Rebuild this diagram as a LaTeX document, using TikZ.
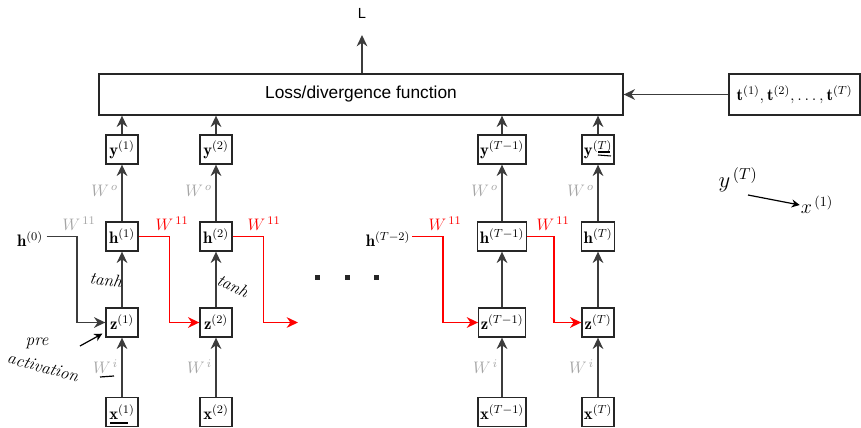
\RequirePackage{fix-cm}
\documentclass[tikz,border=0pt]{standalone}
\usepackage{fontspec}
\newfontfamily\lossfont{Liberation Sans}
\usetikzlibrary{arrows.meta}
\definecolor{linegray}{RGB}{60,60,60}
\definecolor{wgray}{RGB}{165,165,165}
\tikzset{
  cell/.style={draw=black!85, line width=1pt, minimum width=24pt, minimum height=21.75pt, inner sep=1.5pt, font=\fontsize{12.5}{14}\selectfont},
  lossbox/.style={draw=black!85, line width=1pt, inner sep=2pt},
  flow/.style={draw=linegray, line width=1.05pt, -{Stealth[length=8.5pt,width=8pt]}},
  recur/.style={flow, draw=red},
  wlab/.style={inner sep=0.75pt, font=\fontsize{12.5}{14}\selectfont},
  hand/.style={inner sep=0.75pt, font=\fontsize{13}{15}\selectfont\itshape},
  handarrow/.style={line width=0.9pt, -{Stealth[length=6pt,width=6pt]}},
}

\begin{document}
\begin{tikzpicture}[x=0.75pt,y=0.75pt,yscale=-1,xscale=1]
\useasboundingbox (0,0) rectangle (861,428);

% Loss function and targets
\node[lossbox, minimum width=393pt, minimum height=30.75pt, font=\lossfont\fontsize{13}{15}\selectfont] (loss) at (361,94.5) {Loss/divergence function};
\node[lossbox, minimum width=98.25pt, minimum height=30.75pt, font=\fontsize{12.5}{14}\selectfont] (targ) at (794.5,94.5) {$\mathbf{t}^{(1)},\mathbf{t}^{(2)},\ldots,\mathbf{t}^{(T)}$};
\node[font=\lossfont\fontsize{11}{13}\selectfont] (L) at (362,13) {L};
\coordinate (Ltip) at (362,35);
\draw[flow] (loss.north -| Ltip) -- (Ltip);
\draw[flow] (targ.west) -- (loss.east);

% Column 1
\node[cell] (y1) at (122,149.5) {$\mathbf{y}^{(1)}$};
\node[cell] (h1) at (122,236.5) {$\mathbf{h}^{(1)}$};
\node[cell] (z1) at (122,322.5) {$\mathbf{z}^{(1)}$};
\node[cell] (x1) at (122,412) {$\mathbf{x}^{(1)}$};
% Column 2
\node[cell] (y2) at (216,149.5) {$\mathbf{y}^{(2)}$};
\node[cell] (h2) at (216,236.5) {$\mathbf{h}^{(2)}$};
\node[cell] (z2) at (216,322.5) {$\mathbf{z}^{(2)}$};
\node[cell] (x2) at (216,412) {$\mathbf{x}^{(2)}$};
% Column T-1
\node[cell] (yT1) at (502,149.5) {$\mathbf{y}^{(T-1)}$};
\node[cell] (hT1) at (502,236.5) {$\mathbf{h}^{(T-1)}$};
\node[cell] (zT1) at (502,322.5) {$\mathbf{z}^{(T-1)}$};
\node[cell] (xT1) at (502,412) {$\mathbf{x}^{(T-1)}$};
% Column T
\node[cell] (yT) at (598,149.5) {$\mathbf{y}^{(T)}$};
\node[cell] (hT) at (598,236.5) {$\mathbf{h}^{(T)}$};
\node[cell] (zT) at (598,322.5) {$\mathbf{z}^{(T)}$};
\node[cell] (xT) at (598,412) {$\mathbf{x}^{(T)}$};

% Vertical flow
\draw[flow] (x1) -- (z1);
\draw[flow] (z1) -- (h1);
\draw[flow] (h1) -- (y1);
\draw[flow] (y1) -- (y1 |- loss.south);
\draw[flow] (x2) -- (z2);
\draw[flow] (z2) -- (h2);
\draw[flow] (h2) -- (y2);
\draw[flow] (y2) -- (y2 |- loss.south);
\draw[flow] (xT1) -- (zT1);
\draw[flow] (zT1) -- (hT1);
\draw[flow] (hT1) -- (yT1);
\draw[flow] (yT1) -- (yT1 |- loss.south);
\draw[flow] (xT) -- (zT);
\draw[flow] (zT) -- (hT);
\draw[flow] (hT) -- (yT);
\draw[flow] (yT) -- (yT |- loss.south);

% Weight labels
\node[wlab, text=wgray, anchor=east] (wo1) at (119,191) {$W^{\,o}$};
\node[wlab, text=wgray, anchor=east] (wo2) at (213,191) {$W^{\,o}$};
\node[wlab, text=wgray, anchor=east] (woT1) at (499,191) {$W^{\,o}$};
\node[wlab, text=wgray, anchor=east] (woT) at (595,191) {$W^{\,o}$};
\node[wlab, text=wgray, anchor=east] (wi1) at (119,367) {$W^{\,i}$};
\node[wlab, text=wgray, anchor=east] (wi2) at (213,367) {$W^{\,i}$};
\node[wlab, text=wgray, anchor=east] (wiT1) at (499,367) {$W^{\,i}$};
\node[wlab, text=wgray, anchor=east] (wiT) at (595,367) {$W^{\,i}$};

% Recurrence
\node[cell, draw=none, inner sep=1pt] (h0) at (30,239) {$\mathbf{h}^{(0)}$};
\node[cell, draw=none, inner sep=1pt] (hT2) at (388,239) {$\mathbf{h}^{(T-2)}$};
\coordinate (nxt) at (298,322.5);
\draw[flow] (h0.east |- h1.east) -- (77,236.5) |- (z1.west);
\draw[recur] (h1.east) -- ++(31,0) |- (z2.west);
\draw[recur] (h2.east) -- ++(31,0) |- (nxt);
\draw[recur] (hT2.east |- hT1.east) -- (443,236.5) |- (zT1.west);
\draw[recur] (hT1.east) -- ++(27,0) |- (zT.west);
\node[wlab, text=wgray] (w11a) at (79,224) {$W^{\,11}$};
\node[wlab, text=red] (w11b) at (172,224) {$W^{\,11}$};
\node[wlab, text=red] (w11c) at (264,224) {$W^{\,11}$};
\node[wlab, text=red] (w11d) at (445,224) {$W^{\,11}$};
\node[wlab, text=red] (w11e) at (553,224) {$W^{\,11}$};

% Dots
\fill[black!85] (314.5,274.5) rectangle ++(5,5);
\fill[black!85] (344.5,274.5) rectangle ++(5,5);
\fill[black!85] (373.5,274.5) rectangle ++(5,5);

% Handwritten notes
\node[hand, rotate=-8] (tanh1) at (106,280) {tanh};
\node[hand, rotate=-25] (tanh2) at (233,286) {tanh};
\node[hand] (pre) at (37,343) {pre};
\node[hand, rotate=-15] (act) at (43,367) {activation};
\coordinate (preTail) at (80,346);
\draw[handarrow] (preTail) -- ([shift={(-3,-4)}]z1.south west);
\node[hand, font=\fontsize{17}{19}\selectfont] (yTn) at (738,180) {$y^{\,(T)}$};
\node[hand, font=\fontsize{15}{17}\selectfont] (x1n) at (817,205) {$x^{\,(1)}$};
\coordinate (ytail) at (748,195);
\draw[handarrow] (ytail) -- (x1n.west);
\draw[line width=0.9pt] (100,377) -- (114,376);
\draw[line width=0.9pt] (110,423) -- (128,423);
\draw[line width=0.8pt] (598,152) -- (610,152);
\draw[line width=0.8pt] (598,155) -- (611,156);

\end{tikzpicture}
\end{document}
